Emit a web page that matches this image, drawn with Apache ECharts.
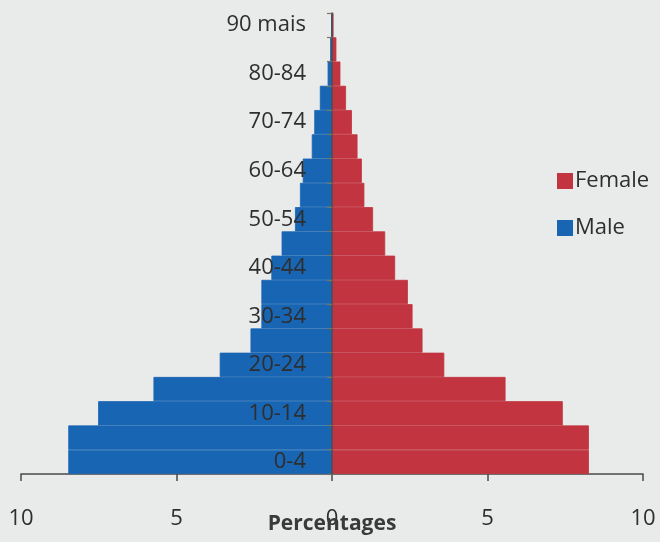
<!DOCTYPE html>
<html>
<head>
<meta charset="utf-8">
<title>Population pyramid</title>
<script src="https://cdn.jsdelivr.net/npm/echarts@6/dist/echarts.min.js"></script>
<style>
  html, body { margin: 0; padding: 0; background: #e9eaea; }
  #chart { width: 660px; height: 542px; }
</style>
</head>
<body>
<div id="chart"></div>
<script>
// Age groups, bottom to top
var ageGroups = ['0-4', '5-9', '10-14', '15-19', '20-24', '25-29', '30-34', '35-39',
  '40-44', '45-49', '50-54', '55-59', '60-64', '65-69', '70-74', '75-79',
  '80-84', '85-89', '90 mais'];

// Share of the population in each age group (%)
var femaleShare = [8.26, 8.26, 7.42, 5.58, 3.61, 2.91, 2.59, 2.44, 2.03, 1.71,
  1.32, 1.04, 0.96, 0.82, 0.64, 0.45, 0.27, 0.14, 0.05];
var maleShare = [8.48, 8.48, 7.52, 5.74, 3.61, 2.62, 2.27, 2.27, 1.95, 1.62,
  1.19, 1.03, 0.94, 0.65, 0.57, 0.39, 0.14, 0.06, 0.02];

// Percentage axis ticks
var axisMin = -10, axisMax = 10, axisStep = 5;

var FONT = '"Open Sans", "DejaVu Sans", sans-serif';
var TEXT = '#2e2e2e';
var AXIS = '#4a4a4a';
var FEMALE_COLOR = '#c2343f';
var MALE_COLOR = '#1865b3';

// Plot area; the age axis sits on the zero line, in the middle of it
var GRID_LEFT = 21, GRID_RIGHT = 17, GRID_TOP = 13, GRID_BOTTOM = 68;
var gridWidth = 660 - GRID_LEFT - GRID_RIGHT;
var zeroX = GRID_LEFT + gridWidth / 2;

var chart = echarts.init(document.getElementById('chart'), null, { renderer: 'canvas' });

chart.setOption({
  backgroundColor: '#e9eaea',
  animation: false,
  textStyle: { fontFamily: FONT, color: TEXT },
  // axis title under the percentage scale, centred on zero
  title: {
    text: 'Percentages',
    left: zeroX,
    textAlign: 'center',
    top: 514,
    padding: 0,
    textStyle: { fontFamily: FONT, fontSize: 21, fontWeight: 'bold', color: '#3a3a3a' }
  },
  legend: {
    data: ['Female', 'Male'],
    orient: 'vertical',
    left: 552,
    top: 165,
    itemWidth: 14,
    itemHeight: 14,
    itemGap: 25,
    icon: 'rect',
    textStyle: { fontFamily: FONT, fontSize: 22, color: TEXT, padding: [0, 0, 0, -2] }
  },
  grid: {
    left: GRID_LEFT, right: GRID_RIGHT, top: GRID_TOP, bottom: GRID_BOTTOM,
    containLabel: false,
    outerBoundsMode: 'none'
  },
  xAxis: {
    type: 'value',
    min: axisMin,
    max: axisMax,
    interval: axisStep,
    splitLine: { show: false },
    axisLine: { show: true, onZero: false, lineStyle: { color: AXIS, width: 1.5 } },
    axisTick: { show: true, length: 7, lineStyle: { color: AXIS, width: 1.5 } },
    axisLabel: {
      margin: 34,
      fontFamily: FONT,
      fontSize: 22,
      color: TEXT,
      formatter: function (v) { return String(Math.abs(v)); }
    }
  },
  yAxis: {
    type: 'category',
    data: ageGroups,
    z: 10,
    position: 'left',
    offset: -(gridWidth / 2),
    axisLine: { show: true, onZero: false, lineStyle: { color: AXIS, width: 1.5 } },
    axisTick: { show: true, length: 5, interval: 0, inside: false, lineStyle: { color: '#7a7560', width: 1.2 } },
    axisLabel: {
      interval: 1,
      margin: 26,
      fontFamily: FONT,
      fontSize: 22,
      color: TEXT
    },
    splitLine: { show: false }
  },
  series: [
    {
      name: 'Female',
      type: 'bar',
      stack: 'pyramid',
      barCategoryGap: '0%',
      itemStyle: { color: FEMALE_COLOR, borderColor: FEMALE_COLOR, borderWidth: 0.8 },
      data: femaleShare.slice()
    },
    {
      name: 'Male',
      type: 'bar',
      stack: 'pyramid',
      barCategoryGap: '0%',
      itemStyle: { color: MALE_COLOR, borderColor: MALE_COLOR, borderWidth: 0.8 },
      data: maleShare.map(function (v) { return -v; })
    }
  ]
});
</script>
</body>
</html>
